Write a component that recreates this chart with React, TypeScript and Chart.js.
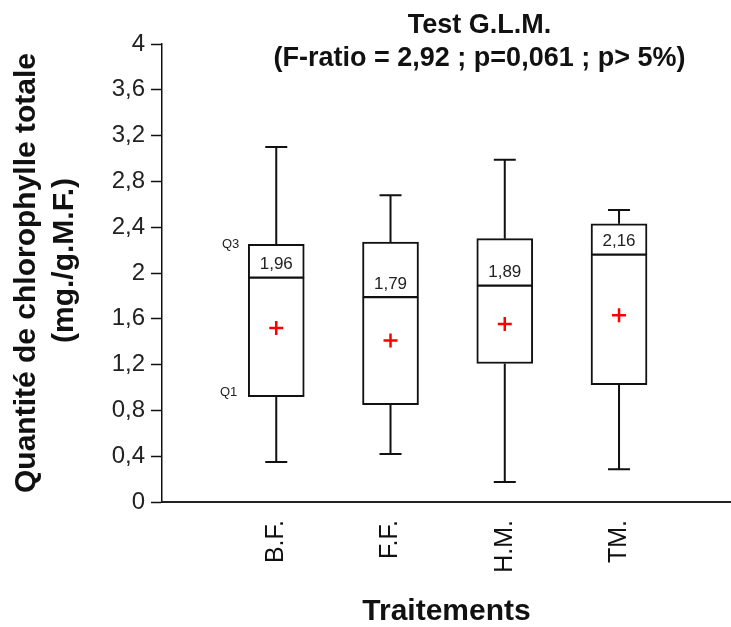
import React, { useEffect, useRef } from 'react';
import { Chart, registerables } from 'chart.js';

Chart.register(...registerables);

const categories = ['B.F.', 'F.F.', 'H.M.', 'TM.'];
const whiskerLow = [0.35, 0.42, 0.175, 0.285];
const q1 = [0.92, 0.85, 1.21, 1.025];
const median = [1.96, 1.79, 1.89, 2.16];
const q3 = [2.25, 2.27, 2.3, 2.43];
const whiskerHigh = [3.1, 2.68, 2.99, 2.55];
const mean = [1.52, 1.41, 1.555, 1.63];
const yTickValues = [0, 0.4, 0.8, 1.2, 1.6, 2, 2.4, 2.8, 3.2, 3.6, 4];
const titleLines = ['Test G.L.M.', '(F-ratio = 2,92 ; p=0,061 ; p> 5%)'];
const yTitle = ['Quantité de chlorophylle totale', '\u00a0\u00a0\u00a0(mg./g.M.F.)'];
const xTitle = 'Traitements';

const FONT = "Arial, 'Liberation Sans', Helvetica, sans-serif";
const fmt = (v: number) => String(Number(v.toFixed(2))).replace('.', ',');

const extrasPlugin = {
  id: 'boxExtras',
  beforeDatasetsDraw(chart: any) {
    const { ctx } = chart;
    const x = chart.scales.x;
    const y = chart.scales.y;
    ctx.save();
    ctx.strokeStyle = '#111';
    ctx.lineWidth = 2;
    categories.forEach((_, i) => {
      const cx = x.getPixelForValue(i + 1);
      const yHi = y.getPixelForValue(whiskerHigh[i]);
      const yLo = y.getPixelForValue(whiskerLow[i]);
      ctx.beginPath();
      ctx.moveTo(cx, y.getPixelForValue(q3[i]));
      ctx.lineTo(cx, yHi);
      ctx.moveTo(cx - 11, yHi);
      ctx.lineTo(cx + 11, yHi);
      ctx.moveTo(cx, y.getPixelForValue(q1[i]));
      ctx.lineTo(cx, yLo);
      ctx.moveTo(cx - 11, yLo);
      ctx.lineTo(cx + 11, yLo);
      ctx.stroke();
    });
    ctx.restore();
  },
  afterDatasetsDraw(chart: any) {
    const { ctx } = chart;
    const x = chart.scales.x;
    const y = chart.scales.y;
    ctx.save();
    ctx.fillStyle = '#222';
    ctx.font = `17px ${FONT}`;
    ctx.textAlign = 'center';
    ctx.textBaseline = 'middle';
    categories.forEach((_, i) => {
      const cx = x.getPixelForValue(i + 1);
      ctx.fillText(fmt(median[i]), cx, y.getPixelForValue(median[i]) - 13);
    });
    const bx = x.getPixelForValue(1) - 37;
    ctx.font = `13px ${FONT}`;
    ctx.textAlign = 'right';
    ctx.fillText('Q3', bx, y.getPixelForValue(q3[0]));
    ctx.fillText('Q1', bx - 2, y.getPixelForValue(q1[0]) - 4);
    ctx.restore();
  },
  afterDraw(chart: any) {
    const { ctx, chartArea } = chart;
    ctx.save();
    ctx.fillStyle = '#111';
    ctx.font = `bold 27px ${FONT}`;
    ctx.textAlign = 'center';
    ctx.textBaseline = 'middle';
    const cx = chartArea.left + (chartArea.right - chartArea.left) * 0.558;
    ctx.fillText(titleLines[0], cx, 26);
    ctx.fillText(titleLines[1], cx, 59);
    ctx.restore();
  },
};

export default function App() {
  const canvasRef = useRef<HTMLCanvasElement | null>(null);

  useEffect(() => {
    document.body.style.margin = '0';
    const canvas = canvasRef.current;
    if (!canvas) return;
    const boxBase = {
      type: 'bar',
      backgroundColor: '#ffffff',
      borderColor: '#111',
      borderSkipped: false,
      barThickness: 56,
      grouped: false,
      order: 1,
    };
    const chart = new Chart(canvas, {
      type: 'bar',
      data: {
        datasets: [
          {
            type: 'scatter',
            data: mean.map((m, i) => ({ x: i + 1, y: m })),
            pointStyle: 'cross',
            pointRadius: 7,
            pointHoverRadius: 7,
            borderColor: '#ff0000',
            backgroundColor: '#ff0000',
            borderWidth: 2.5,
            order: 0,
          } as any,
          {
            ...boxBase,
            data: categories.map((_, i) => ({ x: i + 1, y: [q1[i], median[i]] })),
            borderWidth: { top: 1.5, bottom: 2, left: 2, right: 2 },
          } as any,
          {
            ...boxBase,
            data: categories.map((_, i) => ({ x: i + 1, y: [median[i], q3[i]] })),
            borderWidth: { top: 2, bottom: 1.5, left: 2, right: 2 },
          } as any,
        ],
      },
      options: {
        responsive: false,
        animation: false,
        layout: { autoPadding: false, padding: { top: 44, left: 0, right: 0, bottom: 0 } },
        plugins: {
          legend: { display: false },
          tooltip: { enabled: false },
          title: { display: false },
        },
        scales: {
          x: {
            type: 'linear',
            min: 0,
            max: 4.98,
            offset: false,
            afterBuildTicks: (scale: any) => {
              scale.ticks = categories.map((_, i) => ({ value: i + 1 }));
            },
            afterFit: (scale: any) => {
              scale.height = 125;
            },
            grid: { display: false, drawTicks: false, offset: false },
            border: { display: true, color: '#222', width: 2 },
            ticks: {
              autoSkip: false,
              minRotation: 90,
              maxRotation: 90,
              padding: 18,
              color: '#111',
              font: { family: FONT, size: 25 },
              callback: (v: any) => categories[Number(v) - 1] ?? '',
            },
            title: {
              display: true,
              text: xTitle,
              color: '#111',
              font: { family: FONT, size: 30, weight: 'bold', lineHeight: 1 },
              padding: { top: 0, bottom: 0 },
            },
          } as any,
          y: {
            type: 'linear',
            min: 0,
            max: 4,
            afterBuildTicks: (scale: any) => {
              scale.ticks = yTickValues.map((v) => ({ value: v }));
            },
            afterFit: (scale: any) => {
              scale.width = 162;
            },
            grid: {
              drawOnChartArea: false,
              drawTicks: true,
              tickLength: 11,
              tickColor: '#111',
              tickWidth: 1.5,
            },
            border: { display: true, color: '#111', width: 1.5 },
            ticks: {
              padding: 6,
              color: '#222',
              font: { family: FONT, size: 24 },
              callback: (v: any) => fmt(Number(v)),
            },
            title: {
              display: true,
              text: yTitle,
              color: '#111',
              font: { family: FONT, size: 30, weight: 'bold', lineHeight: 1.27 },
              padding: { top: 8, bottom: 0 },
            },
          } as any,
        },
      },
      plugins: [extrasPlugin],
    } as any);
    return () => chart.destroy();
  }, []);

  return (
    <div style={{ width: 731, height: 627 }}>
      <canvas ref={canvasRef} width={731} height={627} />
    </div>
  );
}
